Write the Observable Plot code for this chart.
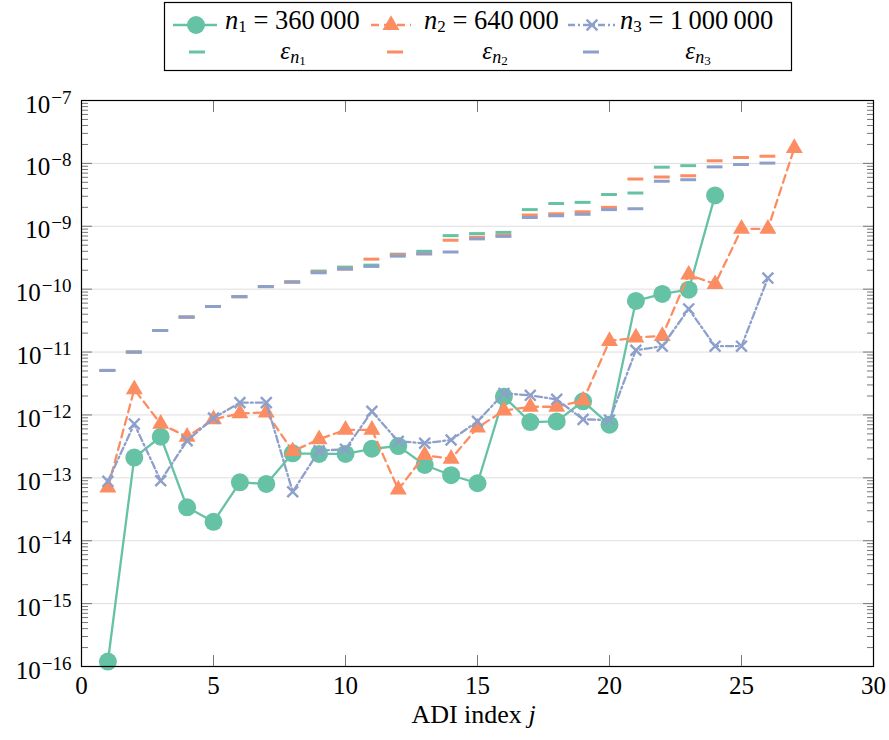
<!DOCTYPE html>
<html><head><meta charset="utf-8">
<script src="https://cdn.jsdelivr.net/npm/d3@7"></script>
<script src="https://cdn.jsdelivr.net/npm/@observablehq/plot@0.6"></script>
<style>
html,body{margin:0;padding:0;background:#fff;overflow:hidden;}
#legend{display:block;}
#chart svg{display:block;}
</style></head><body>
<svg id="legend" width="889" height="75"></svg>
<div id="chart"></div>
<script>
const C1 = "#66c2a5", C2 = "#fc8d62", C3 = "#8da0cb";
const FONT = "'Liberation Serif','DejaVu Serif',serif";

// residual values per ADI step j = 1..N
const n1Vals = [1.2e-16, 2.1e-13, 4.5e-13, 3.4e-14, 2.0e-14, 8.5e-14, 8.0e-14, 2.45e-13, 2.4e-13, 2.4e-13, 2.9e-13, 3.2e-13, 1.6e-13, 1.1e-13, 8.2e-14, 1.95e-12, 7.7e-13, 7.9e-13, 1.65e-12, 7.0e-13, 6.5e-11, 8.4e-11, 9.8e-11, 3.1e-9];
const n2Vals = [7.0e-14, 2.55e-12, 7.2e-13, 4.5e-13, 8.5e-13, 1.06e-12, 1.09e-12, 2.65e-13, 4.1e-13, 5.8e-13, 5.8e-13, 6.5e-14, 2.3e-13, 2.0e-13, 6.3e-13, 1.17e-12, 1.35e-12, 1.35e-12, 1.7e-12, 1.5e-11, 1.7e-11, 1.8e-11, 1.7e-10, 1.2e-10, 9.1e-10, 9.1e-10, 1.75e-8];
const n3Vals = [8.8e-14, 7.2e-13, 9.0e-14, 3.9e-13, 8.9e-13, 1.57e-12, 1.57e-12, 6.0e-14, 2.7e-13, 2.85e-13, 1.14e-12, 3.8e-13, 3.55e-13, 4.0e-13, 7.9e-13, 2.2e-12, 2.05e-12, 1.77e-12, 8.5e-13, 8.3e-13, 1.07e-11, 1.24e-11, 4.85e-11, 1.24e-11, 1.24e-11, 1.5e-10];

// error bounds eps per step
const eps1Vals = [5.1e-12, 1.0e-11, 2.2e-11, 3.6e-11, 5.3e-11, 7.6e-11, 1.1e-10, 1.3e-10, 1.94e-10, 2.24e-10, 2.41e-10, 3.6e-10, 4.0e-10, 7.1e-10, 7.65e-10, 8.0e-10, 1.84e-9, 2.3e-9, 2.4e-9, 3.2e-9, 3.38e-9, 8.7e-9, 9.2e-9];
const eps2Vals = [5.1e-12, 1.0e-11, 2.2e-11, 3.6e-11, 5.3e-11, 7.6e-11, 1.1e-10, 1.3e-10, 1.86e-10, 2.09e-10, 3.0e-10, 3.5e-10, 3.65e-10, 6.0e-10, 6.7e-10, 7.2e-10, 1.51e-9, 1.58e-9, 1.7e-9, 2.0e-9, 5.64e-9, 6.07e-9, 6.36e-9, 1.1e-8, 1.24e-8, 1.3e-8];
const eps3Vals = [5.1e-12, 1.0e-11, 2.2e-11, 3.6e-11, 5.3e-11, 7.6e-11, 1.1e-10, 1.3e-10, 1.82e-10, 2.09e-10, 2.3e-10, 3.35e-10, 3.65e-10, 3.9e-10, 6.3e-10, 6.9e-10, 1.38e-9, 1.47e-9, 1.55e-9, 1.84e-9, 1.9e-9, 5.2e-9, 5.5e-9, 8.8e-9, 9.6e-9, 1.01e-8];

const xTicks = [0, 5, 10, 15, 20, 25, 30];
const yExps = [-16, -15, -14, -13, -12, -11, -10, -9, -8, -7];

const rows = v => v.map((val, i) => ({j: i + 1, v: val}));
const r1 = rows(n1Vals), r2 = rows(n2Vals), r3 = rows(n3Vals);
const e1 = rows(eps1Vals), e2 = rows(eps2Vals), e3 = rows(eps3Vals);

const decades = yExps.map(e => Math.pow(10, e));
const minors = [];
for (let e = -16; e < -7; e++) for (let k = 2; k <= 9; k++) minors.push(k * Math.pow(10, e));

const TICK = "#777";
const chart = Plot.plot({
  width: 889, height: 665,
  marginTop: 25, marginBottom: 74, marginLeft: 81, marginRight: 16,
  style: {fontFamily: FONT, fontSize: "25px", color: "black", background: "white"},
  x: {domain: [0, 30]},
  y: {type: "log", domain: [1e-16, 1e-7]},
  marks: [
    Plot.ruleY(decades.slice(1, -1), {stroke: "#dedede", strokeWidth: 1}),
    Plot.axisY({anchor: "left", ticks: minors, tickSize: 7, dx: 7, tickFormat: () => "", label: null, stroke: TICK}),
    Plot.axisY({anchor: "right", ticks: minors, tickSize: 7, dx: -7, tickFormat: () => "", label: null, stroke: TICK}),
    Plot.axisY({anchor: "left", ticks: decades, tickSize: 11, dx: 11, tickFormat: () => "", label: null, stroke: TICK}),
    Plot.axisY({anchor: "right", ticks: decades, tickSize: 11, dx: -11, tickFormat: () => "", label: null, stroke: TICK}),
    Plot.axisX({anchor: "bottom", ticks: xTicks, tickSize: 11, dy: -11, tickFormat: () => "", label: null, stroke: TICK}),
    Plot.axisX({anchor: "top", ticks: xTicks, tickSize: 11, dy: 11, tickFormat: () => "", label: null, stroke: TICK}),
    Plot.axisY({anchor: "left", ticks: decades, tickSize: 0, tickPadding: 10, dy: 4,
      tickFormat: d => "10^" + Math.round(Math.log10(d)), label: null, fontSize: 25}),
    Plot.axisX({anchor: "bottom", ticks: xTicks, tickSize: 0, tickPadding: 10, label: null, fontSize: 25}),
    Plot.ruleY(e1, {y: "v", x1: d => d.j - 0.3, x2: d => d.j + 0.3, stroke: C1, strokeWidth: 3}),
    Plot.ruleY(e2, {y: "v", x1: d => d.j - 0.3, x2: d => d.j + 0.3, stroke: C2, strokeWidth: 3}),
    Plot.ruleY(e3, {y: "v", x1: d => d.j - 0.3, x2: d => d.j + 0.3, stroke: C3, strokeWidth: 3}),
    Plot.line(r1, {x: "j", y: "v", stroke: C1, strokeWidth: 2.3}),
    Plot.dot(r1, {x: "j", y: "v", r: 9, fill: C1}),
    Plot.line(r2, {x: "j", y: "v", stroke: C2, strokeWidth: 2.3, strokeDasharray: "8,5"}),
    Plot.dot(r2, {x: "j", y: "v", symbol: "triangle", r: 6.3, fill: C2}),
    Plot.line(r3, {x: "j", y: "v", stroke: C3, strokeWidth: 2.3, strokeDasharray: "7,3,2,3"}),
    Plot.dot(r3, {x: "j", y: "v", symbol: "times", r: 5, stroke: C3, strokeWidth: 2.4}),
    Plot.frame({stroke: "black", strokeWidth: 1.2}),
    Plot.text(["ADI index j"], {frameAnchor: "bottom", dy: 56, dx: -4, fontSize: 26, text: d => d})
  ]
});
document.getElementById("chart").appendChild(chart);

// superscript exponents on y tick labels
d3.select(chart).selectAll("text").each(function() {
  const t = this.textContent;
  const m = t.match(/^10\^(-?\d+)$/);
  if (m) {
    const s = d3.select(this); s.text(null);
    s.append("tspan").text("10");
    s.append("tspan").attr("dy", -9).attr("dx", 1).attr("font-size", "19px").text("\u2212" + Math.abs(+m[1]));
  } else if (t === "ADI index j") {
    const s = d3.select(this); s.text(null);
    s.append("tspan").text("ADI index ");
    s.append("tspan").attr("font-style", "italic").text("j");
  }
});

// legend
const lg = d3.select("#legend").attr("font-family", FONT);
lg.append("rect").attr("x", 164.5).attr("y", 2.5).attr("width", 627).attr("height", 68)
  .attr("fill", "white").attr("stroke", "black").attr("stroke-width", 1.2);
const items = [
  {c: C1, cx: 196, x0: 173, x1: 217, dash: null, sym: "circle", tx: 225, label: "360\u2009000", sub: "1", ex: 293, dx: 197},
  {c: C2, cx: 391, x0: 371, x1: 411, dash: "8,5", sym: "triangle", tx: 424, label: "640\u2009000", sub: "2", ex: 495, dx: 395},
  {c: C3, cx: 592, x0: 568, x1: 615, dash: "7,3,2,3", sym: "times", tx: 620, label: "1\u2009000\u2009000", sub: "3", ex: 698, dx: 591}
];
const symMap = {circle: d3.symbolCircle, triangle: d3.symbolTriangle, times: d3.symbolTimes};
items.forEach(it => {
  lg.append("line").attr("x1", it.x0).attr("x2", it.x1).attr("y1", 25).attr("y2", 25)
    .attr("stroke", it.c).attr("stroke-width", 2.3).attr("stroke-dasharray", it.dash);
  const r = it.sym === "circle" ? 9 : it.sym === "triangle" ? 6.3 : 5;
  const p = lg.append("path").attr("transform", `translate(${it.cx},25)`)
    .attr("d", d3.symbol(symMap[it.sym], Math.PI * r * r)());
  if (it.sym === "times") p.attr("fill", "none").attr("stroke", it.c).attr("stroke-width", 2.4);
  else p.attr("fill", it.c);
  const t = lg.append("text").attr("x", it.tx).attr("y", 29).attr("font-size", 26.5);
  t.append("tspan").attr("font-style", "italic").text("n");
  t.append("tspan").attr("font-size", 17).attr("dy", 3).text(it.sub);
  t.append("tspan").attr("dy", -3).text(" = " + it.label);
  lg.append("line").attr("x1", it.dx - 8).attr("x2", it.dx + 8).attr("y1", 52).attr("y2", 52)
    .attr("stroke", it.c).attr("stroke-width", 3);
  const e = lg.append("text").attr("x", it.ex).attr("y", 58.5).attr("font-size", 25).attr("text-anchor", "middle");
  e.append("tspan").attr("font-style", "italic").text("\u03b5");
  e.append("tspan").attr("font-style", "italic").attr("font-size", 18).attr("dy", 4).text("n");
  e.append("tspan").attr("font-size", 13).attr("dy", 2).text(it.sub);
});
</script>
</body></html>
